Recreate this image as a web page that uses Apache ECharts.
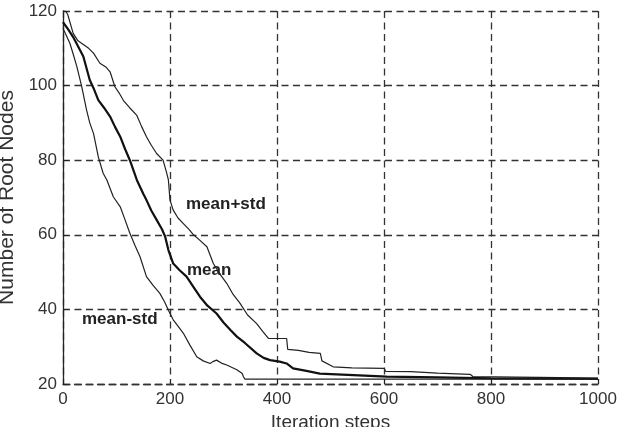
<!DOCTYPE html>
<html>
<head>
<meta charset="utf-8">
<script src="https://cdn.jsdelivr.net/npm/echarts@6/dist/echarts.min.js"></script>
<style>
  html, body { margin: 0; padding: 0; background: #fff; }
  #chart { width: 623px; height: 427px; }
</style>
</head>
<body>
<div id="chart"></div>
<script>
// values: [iteration step, number of root nodes]
var meanPlusStd = [[0, 120], [5, 120], [9, 119], [19, 114], [28, 112], [38, 111], [48, 110],
  [57, 108.7], [69, 106], [80, 105], [88, 103.7], [97, 99.7], [105, 98], [113, 96], [125, 94],
  [138, 92], [147, 89], [156, 86.3], [165, 84], [175, 81.8], [187, 80], [193, 77], [197, 74.7],
  [200, 69.3], [206, 66.6], [215, 64.5], [225, 63], [235, 61.5], [244, 60], [256, 58.5],
  [269, 56.8], [281, 52.3], [293, 49.5], [306, 47], [318, 44], [331, 41.6], [345, 38.5],
  [362, 36.2], [374, 34], [384, 32.2], [418, 32.2], [420, 29.3], [440, 29], [460, 28.5],
  [481, 28.2], [484, 26.2], [505, 24.6], [540, 24.3], [600, 24.2], [603, 23.4], [650, 23.3],
  [700, 22.9], [761, 22.6], [766, 22], [890, 21.8], [1000, 21.6]];

var meanLine = [[0, 117], [10, 115], [19, 113], [30, 110], [38, 107.8], [50, 101.5], [58, 99],
  [66, 96.1], [77, 94], [88, 91.7], [97, 89], [107, 86.3], [116, 83], [125, 80], [138, 74.7],
  [150, 71], [156, 69.3], [165, 66.5], [175, 64], [185, 61.5], [191, 59.5], [197, 55.9],
  [206, 52.3], [218, 50.5], [231, 48.8], [244, 46], [256, 43.4], [270, 41], [287, 38.9],
  [300, 36.5], [313, 34.5], [325, 32.7], [340, 31], [362, 28.2], [375, 27], [387, 26.4],
  [405, 26], [418, 25.5], [430, 24.2], [455, 23.5], [480, 22.8], [543, 22.4], [605, 22],
  [700, 21.8], [800, 21.5], [1000, 21.4]];

var meanMinusStd = [[0, 115.3], [6, 113.5], [13, 111.3], [20, 108], [26, 105], [35, 99.7],
  [44, 93.5], [50, 90], [57, 87.2], [66, 80.9], [75, 76.5], [82, 74.7], [94, 70.2], [107, 67.5],
  [116, 64], [125, 60.4], [135, 57], [144, 54.1], [156, 48.8], [168, 46.5], [181, 44.3],
  [190, 42], [197, 39.8], [206, 37.2], [215, 35.5], [225, 33.6], [237, 30.5], [250, 27.3],
  [262, 26.2], [275, 25.5], [280, 26], [287, 26.4], [296, 25.6], [306, 25.1], [315, 24.5],
  [325, 23.8], [335, 22.8], [337, 22], [340, 21.3], [1000, 21.3]];

var xTicks = { min: 0, max: 1000, step: 200 };
var yTicks = { min: 20, max: 120, step: 20 };

var seriesNames = ['mean+std', 'mean', 'mean-std'];

var font = "'Liberation Sans', Arial, sans-serif";
var dashLine = { color: '#333', width: 1.3, type: [7, 4.5] };

var chart = echarts.init(document.getElementById('chart'));

function lineSeries(name, data, width, color) {
  return {
    name: name,
    type: 'line',
    data: data,
    showSymbol: false,
    silent: true,
    animation: false,
    lineStyle: { color: color, width: width }
  };
}

chart.setOption({
  animation: false,
  grid: { left: 63, right: 25, top: 11, bottom: 43, outerBoundsMode: 'none', containLabel: false },
  xAxis: {
    type: 'value',
    min: xTicks.min,
    max: xTicks.max,
    interval: xTicks.step,
    name: 'Iteration steps',
    nameLocation: 'middle',
    nameGap: 28,
    nameTextStyle: { fontFamily: font, fontSize: 19, color: '#333' },
    axisLine: { show: true, lineStyle: dashLine },
    axisTick: { show: true, inside: true, length: 5, lineStyle: { color: '#222' } },
    axisLabel: {
      fontFamily: font, fontSize: 17, color: '#333', margin: 7,
      formatter: function (v) { return String(v); }
    },
    splitLine: { show: true, lineStyle: dashLine }
  },
  yAxis: {
    type: 'value',
    min: yTicks.min,
    max: yTicks.max,
    interval: yTicks.step,
    name: 'Number of Root Nodes',
    nameLocation: 'middle',
    nameGap: 42,
    nameTextStyle: { fontFamily: font, fontSize: 21, color: '#333' },
    axisLine: { show: true, lineStyle: { color: '#222', width: 1.3 } },
    axisTick: { show: true, inside: true, length: 5, lineStyle: { color: '#222' } },
    axisLabel: { fontFamily: font, fontSize: 17, color: '#333', margin: 6 },
    splitLine: { show: true, lineStyle: dashLine }
  },
  graphic: [
    { type: 'text', left: 186, top: 196, style: { text: seriesNames[0], font: 'bold 17px ' + font, fill: '#222' } },
    { type: 'text', left: 187, top: 262, style: { text: seriesNames[1], font: 'bold 17px ' + font, fill: '#222' } },
    { type: 'text', left: 82, top: 311, style: { text: seriesNames[2], font: 'bold 17px ' + font, fill: '#222' } }
  ],
  series: [
    lineSeries(seriesNames[0], meanPlusStd, 1.2, '#222'),
    lineSeries(seriesNames[1], meanLine, 2.2, '#111'),
    lineSeries(seriesNames[2], meanMinusStd, 1.2, '#222')
  ]
});
</script>
</body>
</html>
